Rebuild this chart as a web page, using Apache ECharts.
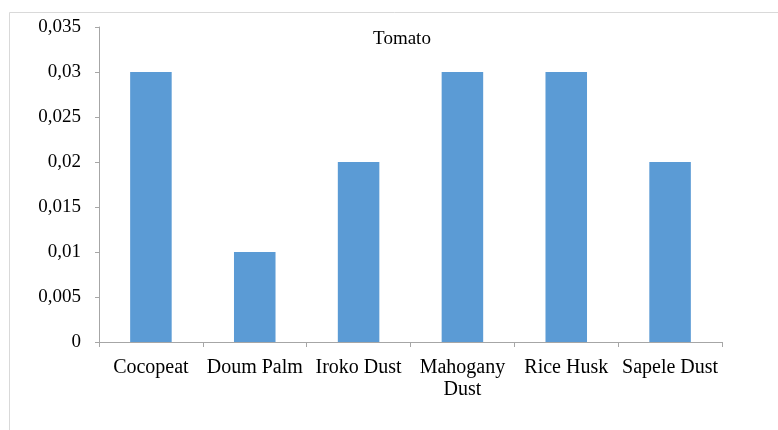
<!DOCTYPE html>
<html>
<head>
<meta charset="utf-8">
<script src="https://cdn.jsdelivr.net/npm/echarts@6/dist/echarts.min.js"></script>
<style>html,body{margin:0;padding:0;background:#fff}#c{width:778px;height:430px}</style>
</head>
<body>
<div id="c"></div>
<script>
var categories = ['Cocopeat', 'Doum Palm', 'Iroko Dust', 'Mahogany\nDust', 'Rice Husk', 'Sapele Dust'];
var values = [0.03, 0.01, 0.02, 0.03, 0.03, 0.02];
var chartTitle = 'Tomato';

var chart = echarts.init(document.getElementById('c'), null, {renderer: 'canvas'});
var font = 'Liberation Serif, Times New Roman, serif';
chart.setOption({
  animation: false,
  backgroundColor: '#fff',
  title: {
    text: chartTitle, left: 397, top: 25, textAlign: 'center',
    textStyle: {fontFamily: font, fontSize: 19, fontWeight: 'normal', color: '#000'}
  },
  graphic: [{
    type: 'rect', shape: {x: 9.5, y: 12.5, width: 900, height: 600},
    style: {fill: 'none', stroke: '#d9d9d9', lineWidth: 1}, silent: true, z: -1
  }],
  grid: {left: 99, right: 56, top: 27, bottom: 88},
  xAxis: {
    type: 'category', data: categories,
    axisLine: {lineStyle: {color: '#a6a6a6'}},
    axisTick: {show: true, length: 5, alignWithLabel: false, lineStyle: {color: '#a6a6a6'}},
    axisLabel: {interval: 0, margin: 15, fontFamily: font, fontSize: 20, color: '#000', lineHeight: 22}
  },
  yAxis: {
    type: 'value', min: 0, max: 0.035, interval: 0.005,
    axisLine: {show: true, lineStyle: {color: '#a6a6a6'}},
    axisTick: {show: true, length: 4, lineStyle: {color: '#a6a6a6'}},
    splitLine: {show: false},
    axisLabel: {
      margin: 18, fontFamily: font, fontSize: 19, color: '#000',
      formatter: function (v) { return String(Math.round(v * 1000) / 1000).replace('.', ','); }
    }
  },
  series: [{
    type: 'bar', data: values, barCategoryGap: '60%',
    itemStyle: {color: '#5b9bd5'}
  }]
});
</script>
</body>
</html>
